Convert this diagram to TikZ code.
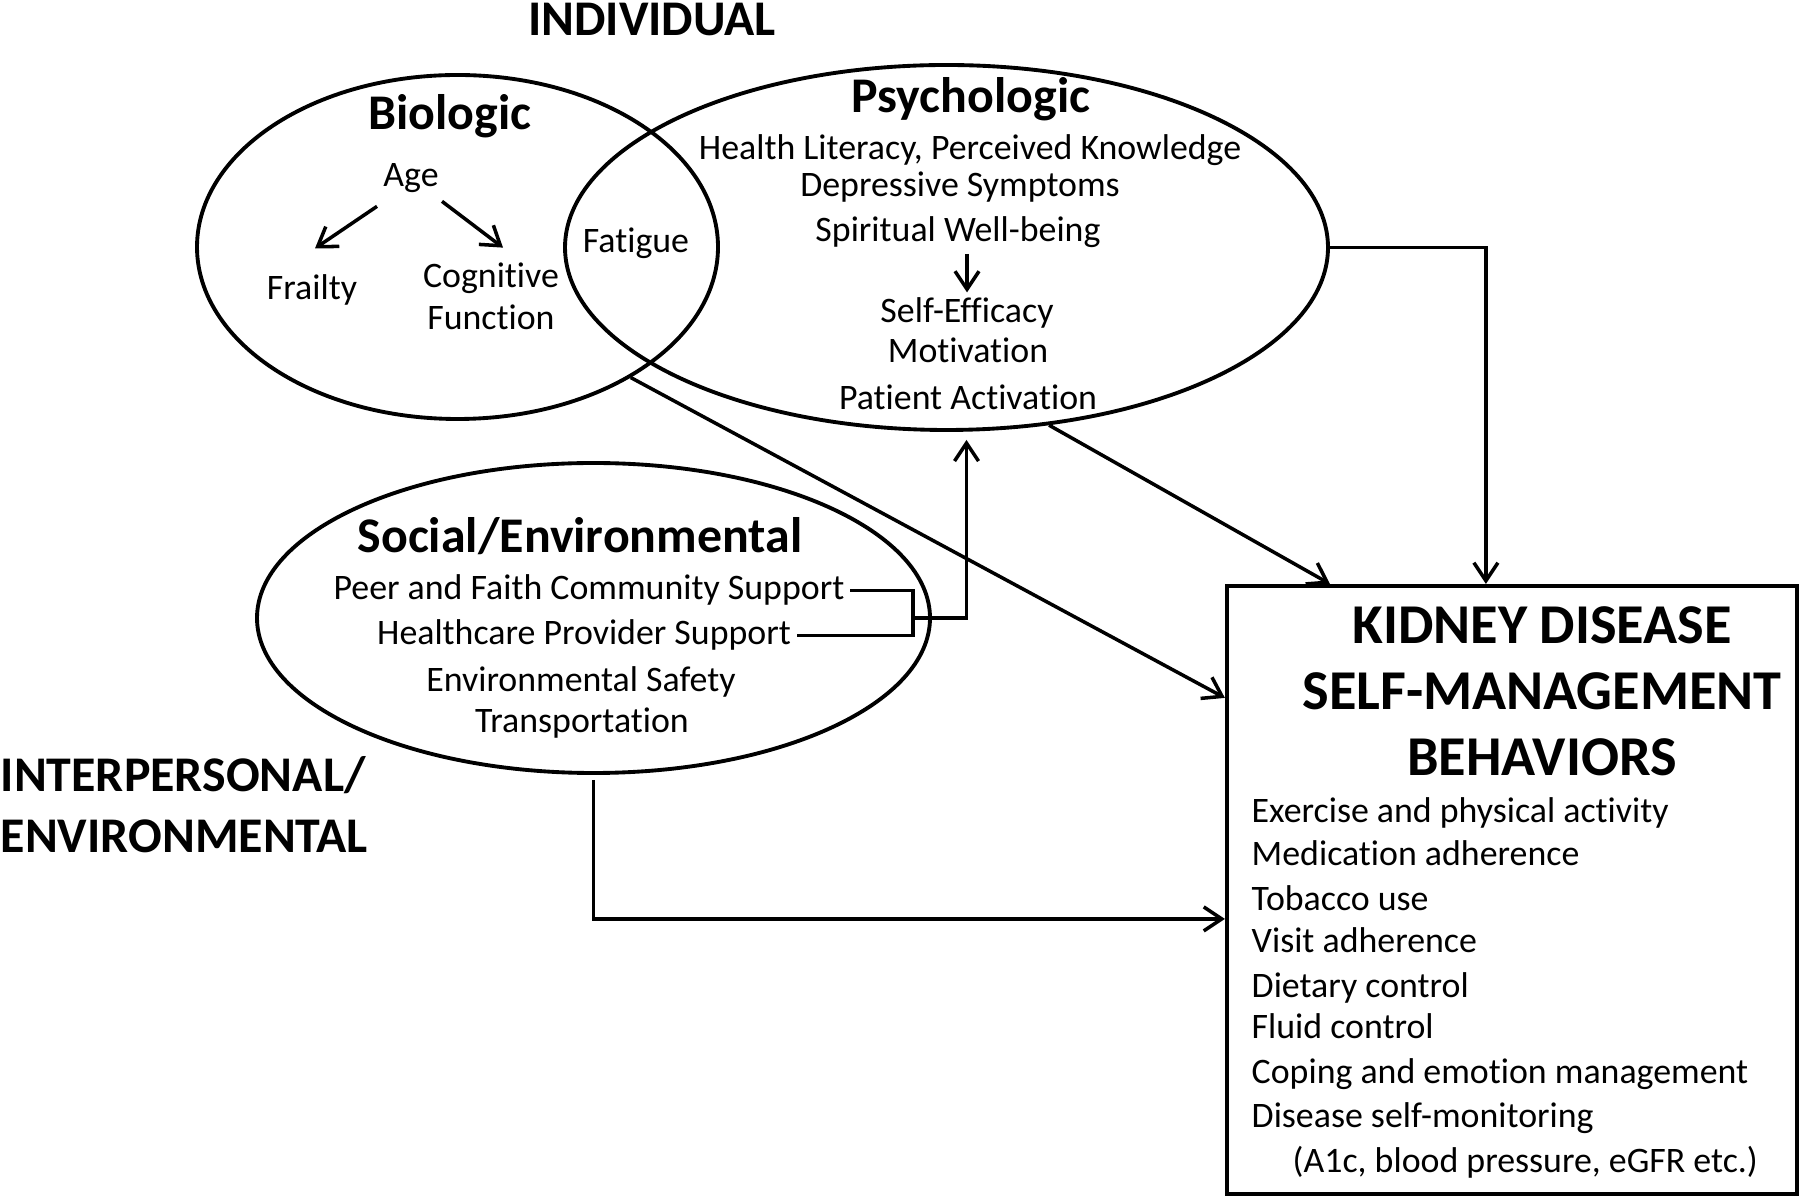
\documentclass[tikz,border=0pt]{standalone}
\usepackage{fontspec}
\setmainfont{Carlito}[RawFeature=-liga,RawFeature=-clig,RawFeature=-calt]
\usetikzlibrary{shapes.geometric,arrows.meta}
\begin{document}
\begin{tikzpicture}[x=0.1mm,y=-0.1mm]
\tikzstyle{txt} = [anchor=base,inner sep=0.5mm,font=\fontsize{10.2}{12}\selectfont]
\tikzstyle{ttl} = [anchor=base,inner sep=0mm,font=\fontsize{14.2}{17}\selectfont\bfseries]
\tikzstyle{big} = [anchor=base,inner sep=0mm,font=\fontsize{16}{19}\selectfont\bfseries]
\tikzstyle{item} = [anchor=base west,inner sep=0mm,font=\fontsize{10.2}{12}\selectfont]
\tikzstyle{oval} = [ellipse,draw,line width=1.1pt,inner sep=0mm]
\tikzstyle{arr} = [line width=1pt,-{Straight Barb[length=1.8mm,width=2.4mm]}]
\useasboundingbox (0,0) rectangle (1800,1198);
	% the three ovals and the box
	\node[oval,minimum width=52.1mm,minimum height=34.4mm] (bio) at (457.5,247) {};
	\node[oval,minimum width=76.3mm,minimum height=36.5mm] (psy) at (946.5,247.5) {};
	\node[oval,minimum width=67.3mm,minimum height=31mm] (soc) at (593.5,618) {};
	\node[draw,line width=1.2pt,minimum width=57mm,minimum height=60.8mm,inner sep=0mm] (kd) at (1512,890) {};
	% individual
	\node[ttl] (indiv) at (652,36) {INDIVIDUAL};
	\node[ttl] (biot) at (450,130) {Biologic};
	\node[txt] (age) at (411,187) {Age};
	\node[txt] (frail) at (312,300) {Frailty};
	\node[txt] (cog1) at (491,288) {Cognitive};
	\node[txt] (cog2) at (491,330) {Function};
	\node[txt] (fat) at (636,253) {Fatigue};
	\node[ttl] (psyt) at (971,113) {Psychologic};
	\node[txt] (hl) at (970,160) {Health Literacy, Perceived Knowledge};
	\node[txt] (dep) at (960,197) {Depressive Symptoms};
	\node[txt] (spir) at (958,242) {Spiritual Well-being};
	\node[txt] (seff) at (967,323) {Self-Efficacy};
	\node[txt] (motiv) at (968,363) {Motivation};
	\node[txt] (pact) at (968,410) {Patient Activation};
	% interpersonal / environmental
	\node[ttl] (soct) at (580,553) {Social/Environmental};
	\node[txt] (peer) at (589,600) {Peer and Faith Community Support};
	\node[txt] (hcp) at (584,645) {Healthcare Provider Support};
	\node[txt] (envs) at (581,692) {Environmental Safety};
	\node[txt] (trans) at (582,733) {Transportation};
	\node[ttl,anchor=base west] (inter) at (0,792) {INTERPERSONAL/};
	\node[ttl,anchor=base west] (envl) at (0,853) {ENVIRONMENTAL};
	% behaviors
	\node[big] (kd1) at (1542,644) {KIDNEY DISEASE};
	\node[big] (kd2) at (1542,710) {SELF-MANAGEMENT};
	\node[big] (kd3) at (1542,776) {BEHAVIORS};
	\node[item] (it1) at (1251,823) {Exercise and physical activity};
	\node[item] (it2) at (1251,866) {Medication adherence};
	\node[item] (it3) at (1251,910) {Tobacco use};
	\node[item] (it4) at (1251,952) {Visit adherence};
	\node[item] (it5) at (1251,997) {Dietary control};
	\node[item] (it6) at (1251,1038) {Fluid control};
	\node[item] (it7) at (1251,1083) {Coping and emotion management};
	\node[item] (it8) at (1251,1127) {Disease self-monitoring};
	\node[item] (it9) at (1292,1172) {(A1c, blood pressure, eGFR etc.)};
	% arrows
	\draw[arr] ([shift={(-34,7.5)}]age.south) -- ([shift={(3,-21)}]frail.north);
	\draw[arr] ([shift={(31,2.5)}]age.south) -- ([shift={(12,-10)}]cog1.north);
	\draw[arr] (seff.north |- spir.south) -- (seff.north);
	\draw[arr] (bio.-37.5) -- ([yshift=-11.4mm]kd.north west);
	\draw[arr] (psy.-60.6) -- ([xshift=10.5mm]kd.north west);
	\draw[arr] (psy.east) -| ([xshift=26.1mm]kd.north west);
	\coordinate (brk) at (913,618);
	\draw[line width=1pt] (peer.east) -| (brk) |- (hcp.east);
	\draw[arr,shorten >=0.8mm] (brk) -| ([xshift=2mm]psy.south);
	\draw[arr,shorten <=0.5mm] (soc.south) |- ([yshift=-33.5mm]kd.north west);
\end{tikzpicture}
\end{document}
